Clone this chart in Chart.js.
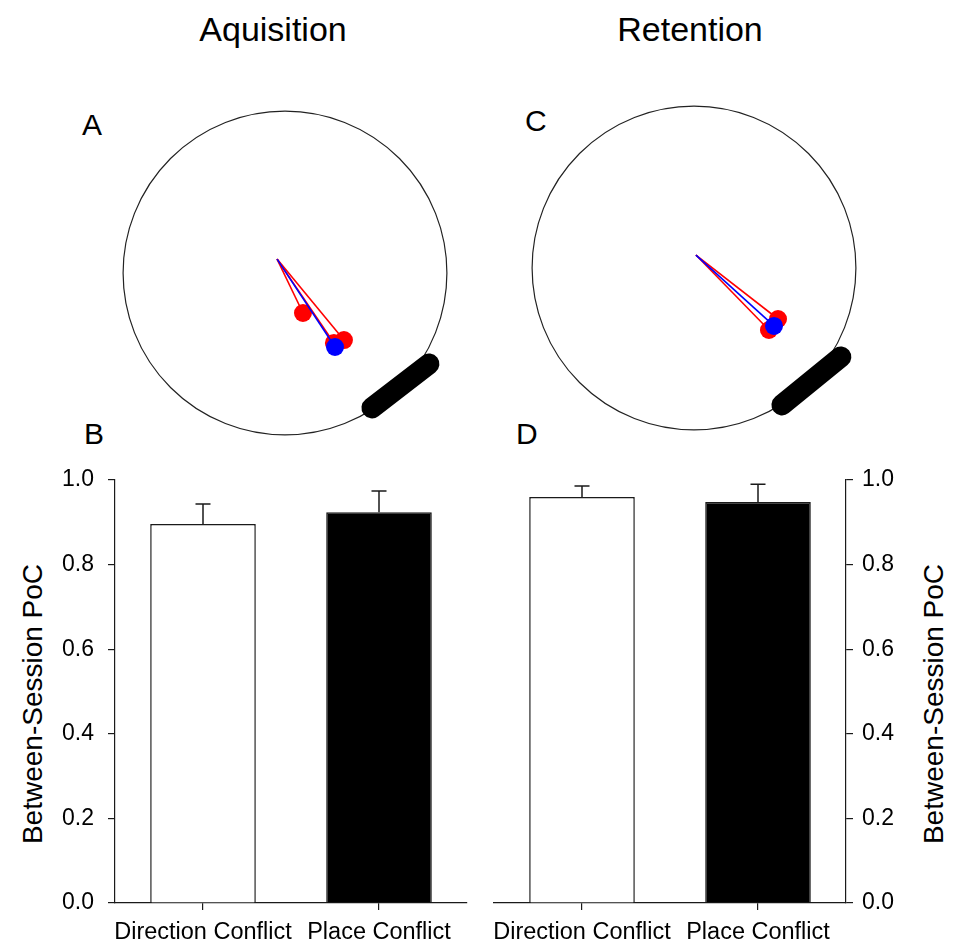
<!DOCTYPE html>
<html>
<head>
<meta charset="utf-8">
<title>Aquisition / Retention - Between-Session PoC</title>
<script src="https://cdn.jsdelivr.net/npm/chart.js@4/dist/chart.umd.min.js"></script>
<style>
    html, body { margin: 0; padding: 0; background: #fff; }
    body {
        width: 960px; height: 943px; position: relative; overflow: hidden;
        font-family: "Liberation Sans", Arial, sans-serif; color: #000;
    }
    canvas { position: absolute; }
    .txt { position: absolute; line-height: 1; white-space: nowrap; }
    .title { font-size: 34px; transform: translateX(-50%); }
    .letter { font-size: 30px; }
    .ytitle { font-size: 28px; transform: translate(-50%, -50%) rotate(-90deg); }
</style>
</head>
<body>

<div class="txt title" style="left:273px; top:12px;">Aquisition</div>
<div class="txt title" style="left:690px; top:12px;">Retention</div>

<div class="txt letter" style="left:82px;  top:110px;">A</div>
<div class="txt letter" style="left:84px;  top:419px;">B</div>
<div class="txt letter" style="left:525px; top:106px;">C</div>
<div class="txt letter" style="left:516px; top:419px;">D</div>

<div class="txt ytitle" style="left:33px;  top:704px;">Between-Session PoC</div>
<div class="txt ytitle" style="left:934px; top:704px;">Between-Session PoC</div>

<canvas id="arenaA" width="340" height="340" style="left:115px; top:103px;"></canvas>
<canvas id="arenaC" width="340" height="340" style="left:524px; top:98px;"></canvas>
<canvas id="barsB" width="480" height="503" style="left:0px; top:440px;"></canvas>
<canvas id="barsD" width="480" height="503" style="left:480px; top:440px;"></canvas>

<script>
/* ═══════════════════════════════════════════
   Data (arena units: pool radius = 1, y up)
   ═══════════════════════════════════════════ */

// ── Panel A: acquisition ──
const ACQ_ORIGIN = [-0.049, 0.086];
const ACQ_RED = [[0.111, -0.247], [0.302, -0.432], [0.364, -0.414]];
const ACQ_BLUE = [[0.309, -0.457]];
const ACQ_CUE = [[0.537, -0.833], [0.889, -0.562]];

// ── Panel C: retention ──
const RET_ORIGIN = [0.012, 0.080];
const RET_RED = [[0.519, -0.315], [0.463, -0.383]];
const RET_BLUE = [[0.494, -0.358]];
const RET_CUE = [[0.543, -0.846], [0.907, -0.549]];

// ── Panels B / D: bars ──
const CATEGORIES = ['Direction Conflict', 'Place Conflict'];
const ACQ_POC = [0.896, 0.924];
const ACQ_SEM = [0.047, 0.050];
const RET_POC = [0.960, 0.948];
const RET_SEM = [0.026, 0.042];
const Y_TICKS = [0.0, 0.2, 0.4, 0.6, 0.8, 1.0];

const ARENA_RADIUS = 1;
const RED = '#ff0000';
const BLUE = '#0000ff';
const INK = '#1a1a1a';
const FONT = '"Liberation Sans", Arial, sans-serif';

// ── Plugins ──
const arenaPlugin = {
    id: 'arena',
    beforeDatasetsDraw(chart) {
        const { ctx, scales: { x, y } } = chart;
        const cx = x.getPixelForValue(0);
        const cy = y.getPixelForValue(0);
        const r = x.getPixelForValue(ARENA_RADIUS) - cx;
        ctx.save();
        ctx.beginPath();
        ctx.arc(cx, cy, r, 0, Math.PI * 2);
        ctx.strokeStyle = '#222';
        ctx.lineWidth = 1.2;
        ctx.stroke();
        ctx.restore();
    }
};

const errorBarPlugin = {
    id: 'errorBars',
    afterDatasetsDraw(chart) {
        const { ctx, scales: { y } } = chart;
        const ds = chart.data.datasets[0];
        const meta = chart.getDatasetMeta(0);
        ctx.save();
        ctx.strokeStyle = INK;
        ctx.lineWidth = 1.5;
        meta.data.forEach((bar, i) => {
            const top = y.getPixelForValue(ds.data[i] + ds.errors[i]);
            ctx.beginPath();
            ctx.moveTo(bar.x, bar.y);
            ctx.lineTo(bar.x, top);
            ctx.moveTo(bar.x - 7.5, top);
            ctx.lineTo(bar.x + 7.5, top);
            ctx.stroke();
        });
        ctx.restore();
    }
};

// ── Arena (circle) charts ──
function makeArena(canvasId, origin, red, blue, cue) {
    const vector = (p, color) => ({
        type: 'line',
        data: [{ x: origin[0], y: origin[1] }, { x: p[0], y: p[1] }],
        borderColor: color,
        backgroundColor: color,
        borderWidth: 1.6,
        pointRadius: [0, 9],
        pointBorderWidth: 0,
        pointHoverRadius: 0,
        clip: false,
    });

    const datasets = [
        ...blue.map(p => vector(p, BLUE)),
        ...red.map(p => vector(p, RED)),
        {
            type: 'line',
            data: cue.map(p => ({ x: p[0], y: p[1] })),
            borderColor: '#000',
            borderWidth: 21,
            borderCapStyle: 'round',
            pointRadius: 0,
            clip: false,
        },
    ];

    return new Chart(document.getElementById(canvasId), {
        type: 'scatter',
        data: { datasets },
        options: {
            responsive: false,
            animation: false,
            layout: { padding: 0, autoPadding: false },
            plugins: { legend: { display: false }, tooltip: { enabled: false } },
            scales: {
                x: { type: 'linear', display: false, min: -1.05, max: 1.05 },
                y: { type: 'linear', display: false, min: -1.05, max: 1.05 },
            },
        },
        plugins: [arenaPlugin],
    });
}

// ── Bar charts ──
function makeBars(canvasId, values, errors, side) {
    const isLeft = side === 'left';
    return new Chart(document.getElementById(canvasId), {
        type: 'bar',
        data: {
            labels: CATEGORIES,
            datasets: [{
                data: values,
                errors: errors,
                backgroundColor: ['#ffffff', '#000000'],
                borderColor: INK,
                borderWidth: 1.5,
                borderSkipped: 'start',
                categoryPercentage: 1,
                barPercentage: 0.6,
            }],
        },
        options: {
            responsive: false,
            animation: false,
            layout: {
                padding: isLeft
                    ? { left: 0, right: 13, top: 40, bottom: 0 }
                    : { left: 14, right: 0, top: 40, bottom: 0 },
            },
            plugins: { legend: { display: false }, tooltip: { enabled: false } },
            scales: {
                x: {
                    grid: {
                        drawOnChartArea: false, drawTicks: true, offset: false,
                        tickLength: 7, color: INK, lineWidth: 1.2,
                    },
                    border: { display: true, color: INK, width: 1.2 },
                    ticks: {
                        color: '#000', padding: 8, maxRotation: 0, autoSkip: false,
                        font: { family: FONT, size: 23.5 },
                    },
                    afterFit: s => { s.height = 40; },
                },
                y: {
                    position: side,
                    min: 0,
                    max: 1,
                    afterBuildTicks: s => { s.ticks = Y_TICKS.map(v => ({ value: v })); },
                    grid: {
                        drawOnChartArea: false, drawTicks: true,
                        tickLength: 7, color: INK, lineWidth: 1.2,
                    },
                    border: { display: true, color: INK, width: 1.2 },
                    ticks: {
                        color: '#000',
                        padding: isLeft ? 14 : 9,
                        font: { family: FONT, size: 23 },
                        callback: v => Number(v).toFixed(1),
                    },
                    afterFit: s => { s.width = isLeft ? 115 : 114; },
                },
            },
        },
        plugins: [errorBarPlugin],
    });
}

makeArena('arenaA', ACQ_ORIGIN, ACQ_RED, ACQ_BLUE, ACQ_CUE);
makeArena('arenaC', RET_ORIGIN, RET_RED, RET_BLUE, RET_CUE);
makeBars('barsB', ACQ_POC, ACQ_SEM, 'left');
makeBars('barsD', RET_POC, RET_SEM, 'right');
</script>
</body>
</html>
